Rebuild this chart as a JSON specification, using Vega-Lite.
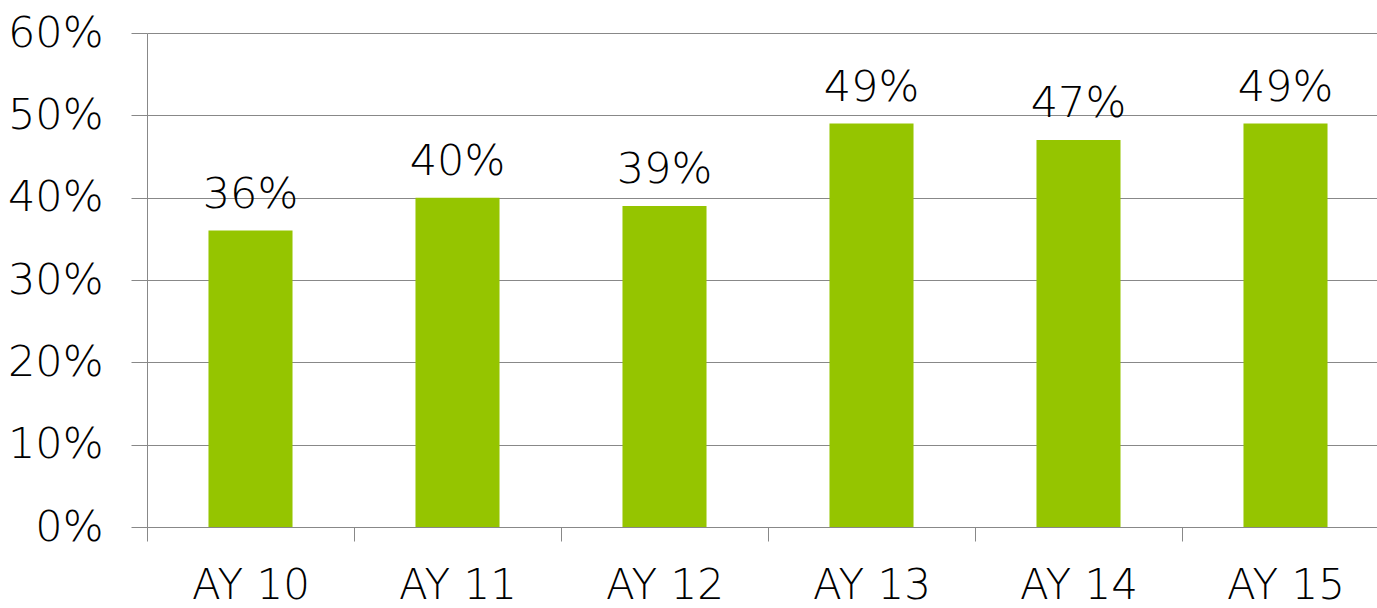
{
  "$schema": "https://vega.github.io/schema/vega-lite/v6.json",
  "width": 1242,
  "height": 494,
  "autosize": {"type": "none"},
  "padding": {"left": 147, "top": 33, "right": 0, "bottom": 81},
  "background": "white",
  "config": {"view": {"stroke": null}, "font": "DejaVu Sans"},
  "data": {"values": [
    {"year": "AY 10", "value": 0.36},
    {"year": "AY 11", "value": 0.40},
    {"year": "AY 12", "value": 0.39},
    {"year": "AY 13", "value": 0.49},
    {"year": "AY 14", "value": 0.47},
    {"year": "AY 15", "value": 0.49}
  ]},
  "encoding": {
    "x": {"field": "year", "type": "nominal", "sort": null,
      "scale": {"paddingInner": 0, "paddingOuter": 0},
      "axis": {"title": null, "labelAngle": 0, "labelFontSize": 42, "labelColor": "#000", "labelFont": "DejaVu Sans", "labelFontWeight": 200,
        "tickBand": "extent", "tickSize": 14, "tickColor": "#888", "domainColor": "#888", "labelPadding": 24, "grid": false, "labelOverlap": false}},
    "y": {"field": "value", "type": "quantitative",
      "scale": {"domain": [0, 0.6]},
      "axis": {"title": null, "format": ".0%", "values": [0,0.1,0.2,0.3,0.4,0.5,0.6], "labelFontSize": 43, "labelColor": "#000", "labelFont": "DejaVu Sans", "labelFontWeight": 200,
        "tickSize": 16, "tickColor": "#888", "domainColor": "#888", "gridColor": "#888", "labelPadding": 28, "labelOverlap": false}}
  },
  "layer": [
    {"mark": {"type": "bar", "color": "#95C500", "width": {"band": 0.406}}},
    {"mark": {"type": "text", "baseline": "alphabetic", "dy": -23, "fontSize": 43, "font": "DejaVu Sans", "fontWeight": 200, "color": "#000"},
     "encoding": {"text": {"field": "value", "type": "quantitative", "format": ".0%"}}}
  ]
}
